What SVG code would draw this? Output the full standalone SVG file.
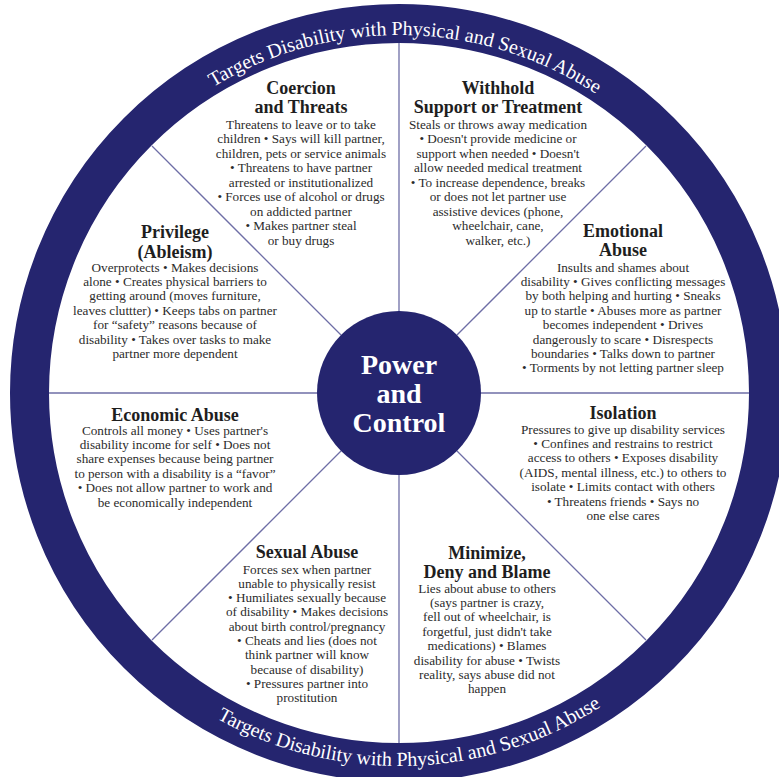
<svg xmlns="http://www.w3.org/2000/svg" xmlns:xlink="http://www.w3.org/1999/xlink" width="779" height="777" viewBox="0 0 779 777">
<style>
.ring{fill:none;stroke:#25256f;stroke-width:39}
.hub{fill:#25256f}
.spoke{stroke:#6e6ea6;stroke-width:1.3}
.t{font-family:"Liberation Serif","Times New Roman",serif;font-size:18px;font-weight:bold;fill:#1e1e1e;text-anchor:middle}
.b{font-family:"Liberation Serif","Times New Roman",serif;font-size:13.2px;fill:#2b2b2b;text-anchor:middle}
.c{font-family:"Liberation Serif","Times New Roman",serif;font-size:28px;font-weight:bold;fill:#fff;text-anchor:middle}
.r{font-family:"Liberation Serif","Times New Roman",serif;font-size:20px;fill:#fff;text-anchor:middle}
</style>
<defs>
<path id="arcTop" d="M 41 393 A 358 358 0 0 1 757 393"/>
<path id="arcBot" d="M 26 393 A 373 373 0 0 0 772 393"/>
</defs>
<rect width="779" height="777" fill="#fff"/>
<g id="ring">
<circle class="ring" cx="399" cy="393" r="369.5"/>
<text class="r"><textPath xlink:href="#arcTop" href="#arcTop" startOffset="50.6%">Targets Disability with Physical and Sexual Abuse</textPath></text>
<text class="r"><textPath xlink:href="#arcBot" href="#arcBot" startOffset="51%">Targets Disability with Physical and Sexual Abuse</textPath></text>
</g>
<g id="connectors">
<line class="spoke" x1="399" y1="311" x2="399" y2="43"/>
<line class="spoke" x1="399" y1="475" x2="399" y2="743"/>
<line class="spoke" x1="317" y1="393" x2="49" y2="393"/>
<line class="spoke" x1="481" y1="393" x2="749" y2="393"/>
<line class="spoke" x1="341" y1="335" x2="152" y2="146"/>
<line class="spoke" x1="457" y1="335" x2="646" y2="146"/>
<line class="spoke" x1="341" y1="451" x2="152" y2="640"/>
<line class="spoke" x1="457" y1="451" x2="646" y2="640"/>
</g>
<g id="center">
<circle class="hub" cx="399" cy="393" r="82"/>
<text class="c" x="399" y="374">Power</text>
<text class="c" x="399" y="403">and</text>
<text class="c" x="399" y="432">Control</text>
</g>
<g id="coercion">
<text class="t" x="301" y="94">Coercion</text>
<text class="t" x="301" y="113">and Threats</text>
<text class="b" x="301" y="128.5">Threatens to leave or to take</text>
<text class="b" x="301" y="143">children • Says will kill partner,</text>
<text class="b" x="301" y="157.5">children, pets or service animals</text>
<text class="b" x="301" y="172">• Threatens to have partner</text>
<text class="b" x="301" y="186.5">arrested or institutionalized</text>
<text class="b" x="301" y="201">• Forces use of alcohol or drugs</text>
<text class="b" x="301" y="215.5">on addicted partner</text>
<text class="b" x="301" y="230">• Makes partner steal</text>
<text class="b" x="301" y="244.5">or buy drugs</text>
</g>
<g id="withhold">
<text class="t" x="498" y="94">Withhold</text>
<text class="t" x="498" y="113">Support or Treatment</text>
<text class="b" x="498" y="128.5">Steals or throws away medication</text>
<text class="b" x="498" y="143">• Doesn't provide medicine or</text>
<text class="b" x="498" y="157.5">support when needed • Doesn't</text>
<text class="b" x="498" y="172">allow needed medical treatment</text>
<text class="b" x="498" y="186.5">• To increase dependence, breaks</text>
<text class="b" x="498" y="201">or does not let partner use</text>
<text class="b" x="498" y="215.5">assistive devices (phone,</text>
<text class="b" x="498" y="230">wheelchair, cane,</text>
<text class="b" x="498" y="244.5">walker, etc.)</text>
</g>
<g id="privilege">
<text class="t" x="175" y="238">Privilege</text>
<text class="t" x="175" y="258">(Ableism)</text>
<text class="b" x="175" y="271.5">Overprotects • Makes decisions</text>
<text class="b" x="175" y="285.9">alone • Creates physical barriers to</text>
<text class="b" x="175" y="300.3">getting around (moves furniture,</text>
<text class="b" x="175" y="314.7">leaves cluttter) • Keeps tabs on partner</text>
<text class="b" x="175" y="329.1">for “safety” reasons because of</text>
<text class="b" x="175" y="343.5">disability • Takes over tasks to make</text>
<text class="b" x="175" y="357.9">partner more dependent</text>
</g>
<g id="emotional">
<text class="t" x="623" y="237">Emotional</text>
<text class="t" x="623" y="256">Abuse</text>
<text class="b" x="623" y="271.5">Insults and shames about</text>
<text class="b" x="623" y="285.9">disability • Gives conflicting messages</text>
<text class="b" x="623" y="300.3">by both helping and hurting • Sneaks</text>
<text class="b" x="623" y="314.7">up to startle • Abuses more as partner</text>
<text class="b" x="623" y="329.1">becomes independent • Drives</text>
<text class="b" x="623" y="343.5">dangerously to scare • Disrespects</text>
<text class="b" x="623" y="357.9">boundaries • Talks down to partner</text>
<text class="b" x="623" y="372.3">• Torments by not letting partner sleep</text>
</g>
<g id="economic">
<text class="t" x="175" y="421">Economic Abuse</text>
<text class="b" x="175" y="434.5">Controls all money • Uses partner's</text>
<text class="b" x="175" y="448.9">disability income for self • Does not</text>
<text class="b" x="175" y="463.3">share expenses because being partner</text>
<text class="b" x="175" y="477.7">to person with a disability is a “favor”</text>
<text class="b" x="175" y="492.1">• Does not allow partner to work and</text>
<text class="b" x="175" y="506.5">be economically independent</text>
</g>
<g id="isolation">
<text class="t" x="623" y="419">Isolation</text>
<text class="b" x="623" y="433.5">Pressures to give up disability services</text>
<text class="b" x="623" y="447.9">• Confines and restrains to restrict</text>
<text class="b" x="623" y="462.3">access to others • Exposes disability</text>
<text class="b" x="623" y="476.7">(AIDS, mental illness, etc.) to others to</text>
<text class="b" x="623" y="491.1">isolate • Limits contact with others</text>
<text class="b" x="623" y="505.5">• Threatens friends • Says no</text>
<text class="b" x="623" y="519.9">one else cares</text>
</g>
<g id="sexual">
<text class="t" x="307" y="558">Sexual Abuse</text>
<text class="b" x="307" y="573.5">Forces sex when partner</text>
<text class="b" x="307" y="587.8">unable to physically resist</text>
<text class="b" x="307" y="602.1">• Humiliates sexually because</text>
<text class="b" x="307" y="616.4">of disability • Makes decisions</text>
<text class="b" x="307" y="630.7">about birth control/pregnancy</text>
<text class="b" x="307" y="645">• Cheats and lies (does not</text>
<text class="b" x="307" y="659.3">think partner will know</text>
<text class="b" x="307" y="673.6">because of disability)</text>
<text class="b" x="307" y="687.9">• Pressures partner into</text>
<text class="b" x="307" y="702.2">prostitution</text>
</g>
<g id="minimize">
<text class="t" x="487" y="559">Minimize,</text>
<text class="t" x="487" y="578">Deny and Blame</text>
<text class="b" x="487" y="592.5">Lies about abuse to others</text>
<text class="b" x="487" y="606.9">(says partner is crazy,</text>
<text class="b" x="487" y="621.3">fell out of wheelchair, is</text>
<text class="b" x="487" y="635.7">forgetful, just didn't take</text>
<text class="b" x="487" y="650.1">medications) • Blames</text>
<text class="b" x="487" y="664.5">disability for abuse • Twists</text>
<text class="b" x="487" y="678.9">reality, says abuse did not</text>
<text class="b" x="487" y="693.3">happen</text>
</g>
</svg>
